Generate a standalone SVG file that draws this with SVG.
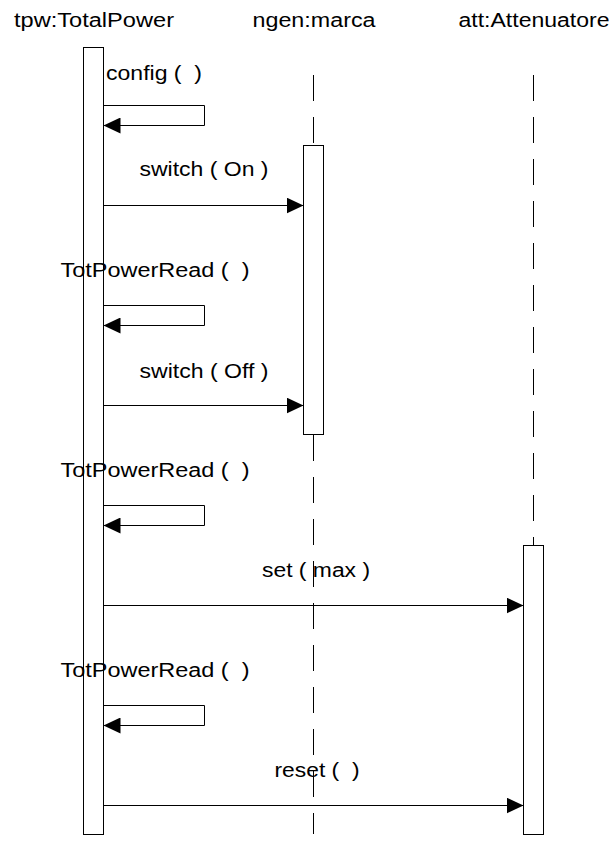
<svg xmlns="http://www.w3.org/2000/svg" width="616" height="843" viewBox="0 0 616 843">
  <style>
    text { font-family: "Liberation Sans", Arial, Helvetica, sans-serif; font-size: 20px; fill: #000; white-space: pre; }
    .mid { text-anchor: middle; }
    .life { stroke: #000; stroke-width: 1; stroke-dasharray: 26 16; fill: none; }
    .act { fill: #fff; stroke: #000; stroke-width: 1; }
    .msg { fill: none; stroke: #000; stroke-width: 1; marker-end: url(#head); }
  </style>
  <defs>
    <marker id="head" markerUnits="userSpaceOnUse" markerWidth="18" markerHeight="16" refX="17" refY="8" orient="auto">
      <path d="M0,0 L17,8 L0,16 Z" fill="#000"/>
    </marker>
  </defs>

  <rect width="616" height="843" fill="#fff"/>

  <!-- object: tpw:TotalPower -->
  <g id="tpw">
    <text class="mid" x="94" y="27" textLength="160" lengthAdjust="spacingAndGlyphs">tpw:TotalPower</text>
    <rect class="act" x="83.5" y="47.5" width="20" height="787"/>
  </g>

  <!-- object: ngen:marca -->
  <g id="ngen">
    <text class="mid" x="314" y="27" textLength="123" lengthAdjust="spacingAndGlyphs">ngen:marca</text>
    <line class="life" x1="313.5" y1="75" x2="313.5" y2="146"/>
    <line class="life" x1="313.5" y1="435" x2="313.5" y2="834"/>
    <rect class="act" x="303.5" y="145.5" width="20" height="289"/>
  </g>

  <!-- object: att:Attenuatore -->
  <g id="att">
    <text class="mid" x="534" y="27" textLength="151" lengthAdjust="spacingAndGlyphs">att:Attenuatore</text>
    <line class="life" x1="533.5" y1="75" x2="533.5" y2="546"/>
    <rect class="act" x="523.5" y="545.5" width="20" height="289"/>
  </g>

  <!-- messages -->
  <g id="connectors">
    <text x="106" y="80" textLength="96" lengthAdjust="spacingAndGlyphs">config (  )</text>
    <path class="msg" d="M103.5,105.5 H204.5 V125.5 H103.5"/>

    <text class="mid" x="204" y="176" textLength="129" lengthAdjust="spacingAndGlyphs">switch ( On )</text>
    <path class="msg" d="M103.5,205.5 H303.5"/>

    <text class="mid" x="155" y="277" textLength="189" lengthAdjust="spacingAndGlyphs">TotPowerRead (  )</text>
    <path class="msg" d="M103.5,305.5 H204.5 V325.5 H103.5"/>

    <text class="mid" x="204" y="378" textLength="129" lengthAdjust="spacingAndGlyphs">switch ( Off )</text>
    <path class="msg" d="M103.5,405.5 H303.5"/>

    <text class="mid" x="155" y="477" textLength="189" lengthAdjust="spacingAndGlyphs">TotPowerRead (  )</text>
    <path class="msg" d="M103.5,505.5 H204.5 V525.5 H103.5"/>

    <text class="mid" x="316" y="577" textLength="108" lengthAdjust="spacingAndGlyphs">set ( max )</text>
    <path class="msg" d="M103.5,605.5 H523.5"/>

    <text class="mid" x="155" y="677" textLength="189" lengthAdjust="spacingAndGlyphs">TotPowerRead (  )</text>
    <path class="msg" d="M103.5,705.5 H204.5 V725.5 H103.5"/>

    <text class="mid" x="317" y="777" textLength="85" lengthAdjust="spacingAndGlyphs">reset (  )</text>
    <path class="msg" d="M103.5,805.5 H523.5"/>
  </g>
</svg>
